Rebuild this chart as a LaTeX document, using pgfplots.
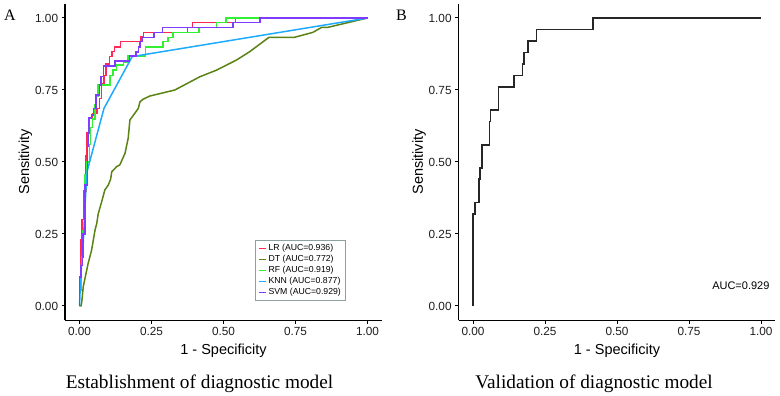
\documentclass[border=0pt]{standalone}
\usepackage{fontspec}
\setmainfont{Liberation Serif}
\newfontfamily\arial{Liberation Sans}
\usepackage{pgfplots}
\pgfplotsset{compat=1.18}
\definecolor{cLR}{RGB}{255,40,80}
\definecolor{cDT}{RGB}{90,130,20}
\definecolor{cRF}{RGB}{50,240,50}
\definecolor{cKNN}{RGB}{30,170,255}
\definecolor{cSVM}{RGB}{125,60,255}
\definecolor{tickgray}{RGB}{30,30,30}
\definecolor{legborder}{RGB}{140,160,160}
\pgfplotsset{
  rocaxis/.style={
    scale only axis, width=316.8pt, height=316.8pt,
    xmin=-0.05, xmax=1.05, ymin=-0.05, ymax=1.05,
    axis lines*=left,
    axis line style={black, line width=1.2pt},
    xtick={0,0.25,0.5,0.75,1}, ytick={0,0.25,0.5,0.75,1},
    tick align=outside, major tick length=3.5pt,
    tick style={black, line width=1pt},
    /pgf/number format/.cd, fixed, fixed zerofill, precision=2, assume math mode=true,
    /pgfplots/.cd,
    ticklabel style={font=\arial\fontsize{11.8}{12}\selectfont, text=tickgray},
    xlabel={1 - Specificity}, ylabel={Sensitivity},
    label style={font=\arial\fontsize{14.5}{15}\selectfont},
    xlabel style={at={(axis description cs:0.5,-0.107)}, anchor=base},
    ylabel style={at={(axis description cs:-0.125,0.5)}, anchor=center, rotate=0},
    clip=false,
  }
}
\begin{document}
\begin{tikzpicture}[x=1pt,y=1pt]
\path[use as bounding box] (0,0) rectangle (780,396);
\begin{axis}[rocaxis, at={(65.1pt,75.6pt)}, anchor=south west,
  legend style={at={(rel axis cs:0.599,0.254)}, anchor=north west, draw=legborder, line width=0.9pt,
    font=\arial\fontsize{8.7}{9.5}\selectfont, row sep=-0.8pt, inner xsep=3pt, inner ysep=2pt},
  legend cell align=left,
  legend image code/.code={\draw[#1, line width=1.3pt] (0pt,0pt) -- (7pt,0pt);},
  every axis plot/.append style={line width=1.5pt}]
\addplot[cLR, line width=1.5pt] coordinates {(0,0) (0,0.10) (0.005,0.10) (0.005,0.23) (0.008,0.23) (0.008,0.30) (0.016,0.30) (0.016,0.40) (0.022,0.40) (0.022,0.52) (0.026,0.52) (0.026,0.60) (0.033,0.60) (0.033,0.654) (0.045,0.654) (0.045,0.669) (0.06,0.669) (0.06,0.686) (0.07,0.686) (0.07,0.72) (0.077,0.72) (0.077,0.77) (0.085,0.77) (0.085,0.80) (0.092,0.80) (0.092,0.84) (0.104,0.84) (0.104,0.866) (0.113,0.866) (0.113,0.883) (0.122,0.883) (0.122,0.90) (0.143,0.90) (0.143,0.918) (0.214,0.918) (0.214,0.934) (0.222,0.934) (0.222,0.95) (0.375,0.95) (0.375,0.967) (0.392,0.967) (0.392,0.984) (0.542,0.984) (0.542,1) (1,1)};
\addlegendentry{LR (AUC=0.936)}
\addplot[cDT, line width=1.5pt] coordinates {(0,0) (0.005,0) (0.008,0.015) (0.013,0.067) (0.03,0.148) (0.042,0.194) (0.054,0.264) (0.06,0.287) (0.065,0.32) (0.077,0.362) (0.088,0.403) (0.10,0.42) (0.108,0.44) (0.112,0.466) (0.129,0.484) (0.14,0.49) (0.158,0.53) (0.169,0.582) (0.175,0.646) (0.192,0.669) (0.204,0.686) (0.21,0.709) (0.221,0.718) (0.244,0.729) (0.331,0.75) (0.418,0.796) (0.476,0.819) (0.545,0.854) (0.591,0.883) (0.658,0.933) (0.747,0.933) (0.81,0.95) (0.84,0.967) (0.86,0.967) (1,1)};
\addlegendentry{DT (AUC=0.772)}
\addplot[cRF, line width=1.5pt] coordinates {(0,0) (0,0.055) (0.0076,0.055) (0.0076,0.17) (0.013,0.17) (0.013,0.26) (0.019,0.26) (0.019,0.455) (0.025,0.455) (0.025,0.50) (0.034,0.50) (0.034,0.56) (0.039,0.56) (0.039,0.62) (0.046,0.62) (0.046,0.65) (0.054,0.65) (0.054,0.70) (0.058,0.70) (0.058,0.727) (0.065,0.727) (0.065,0.767) (0.106,0.767) (0.106,0.80) (0.117,0.80) (0.117,0.819) (0.129,0.819) (0.129,0.837) (0.152,0.837) (0.152,0.848) (0.169,0.848) (0.169,0.868) (0.23,0.868) (0.23,0.90) (0.29,0.90) (0.29,0.918) (0.308,0.918) (0.308,0.933) (0.325,0.933) (0.325,0.95) (0.415,0.95) (0.415,0.967) (0.476,0.967) (0.476,0.984) (0.508,0.984) (0.508,1) (1,1)};
\addlegendentry{RF (AUC=0.919)}
\addplot[cKNN, line width=1.5pt] coordinates {(0,0) (0.004,0.10) (0.013,0.22) (0.022,0.40) (0.027,0.47) (0.085,0.686) (0.183,0.866) (1,1)};
\addlegendentry{KNN (AUC=0.877)}
\addplot[cSVM, line width=1.5pt] coordinates {(0,0) (0,0.10) (0.005,0.10) (0.005,0.14) (0.01,0.14) (0.01,0.17) (0.013,0.17) (0.013,0.25) (0.019,0.25) (0.019,0.42) (0.027,0.42) (0.027,0.553) (0.031,0.553) (0.031,0.652) (0.042,0.652) (0.042,0.663) (0.048,0.663) (0.048,0.686) (0.057,0.686) (0.057,0.733) (0.069,0.733) (0.069,0.767) (0.075,0.767) (0.075,0.796) (0.083,0.796) (0.083,0.833) (0.123,0.833) (0.123,0.851) (0.173,0.851) (0.173,0.868) (0.196,0.868) (0.196,0.882) (0.204,0.882) (0.204,0.90) (0.21,0.90) (0.21,0.919) (0.218,0.919) (0.218,0.933) (0.258,0.933) (0.258,0.95) (0.288,0.95) (0.288,0.967) (0.533,0.967) (0.533,0.984) (0.626,0.984) (0.626,1) (1,1)};
\addlegendentry{SVM (AUC=0.929)}
\end{axis}
\begin{axis}[rocaxis, at={(458.6pt,75.6pt)}, anchor=south west]
\addplot[black!85, line width=1.6pt] coordinates {(0,0) (0,0.32) (0.007,0.32) (0.007,0.36) (0.02,0.36) (0.02,0.44) (0.025,0.44) (0.025,0.48) (0.032,0.48) (0.032,0.56) (0.057,0.56) (0.057,0.64) (0.061,0.64) (0.061,0.68) (0.088,0.68) (0.088,0.76) (0.142,0.76) (0.142,0.80) (0.172,0.80) (0.172,0.84) (0.178,0.84) (0.178,0.88) (0.19,0.88) (0.19,0.92) (0.221,0.92) (0.221,0.96) (0.416,0.96) (0.416,1) (1,1)};
\node[anchor=east, font=\arial\fontsize{11}{12}\selectfont, inner sep=0pt] at (axis cs:1.03,0.07) {AUC=0.929};
\end{axis}
\node[anchor=base west, font=\fontsize{16}{18}\selectfont, inner sep=0pt] at (4,375) {A};
\node[anchor=base west, font=\fontsize{16}{18}\selectfont, inner sep=0pt] at (396,375) {B};
\node[anchor=base, font=\fontsize{19.3}{22}\selectfont, inner sep=0pt] at (199.5,7) {Establishment of diagnostic model};
\node[anchor=base, font=\fontsize{19.3}{22}\selectfont, inner sep=0pt] at (594,7) {Validation of diagnostic model};
\end{tikzpicture}
\end{document}
